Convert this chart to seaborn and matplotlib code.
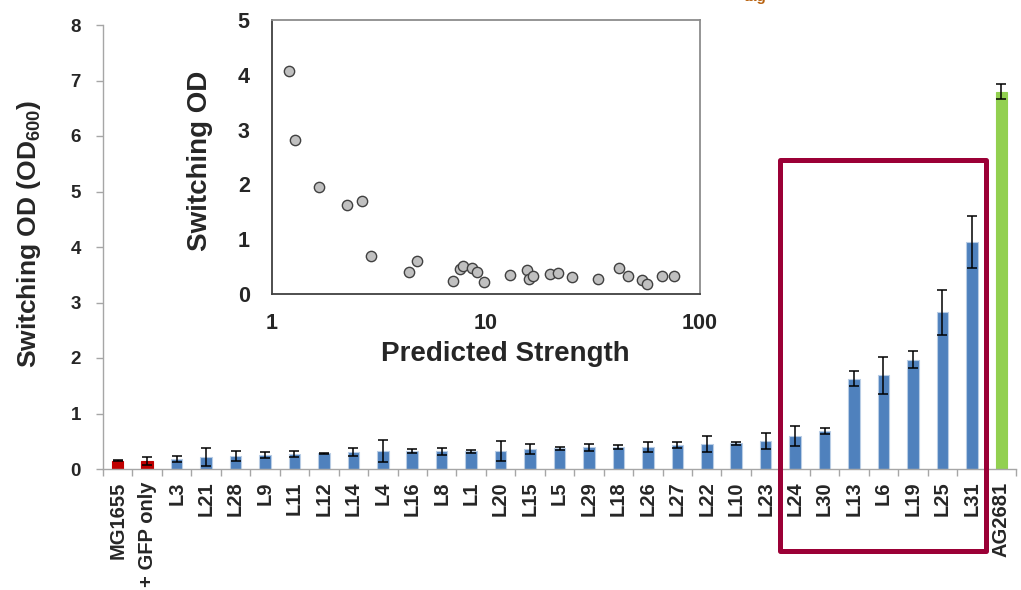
import numpy as np
import pandas as pd
import matplotlib
matplotlib.use('Agg')
import matplotlib.pyplot as plt
import seaborn as sns
from matplotlib.patches import Rectangle

# Main bar chart data (switching OD per strain)
strains = ['MG1655', '+ GFP only', 'L3', 'L21', 'L28', 'L9', 'L11', 'L12', 'L14', 'L4',
           'L16', 'L8', 'L1', 'L20', 'L15', 'L5', 'L29', 'L18', 'L26', 'L27', 'L22',
           'L10', 'L23', 'L24', 'L30', 'L13', 'L6', 'L19', 'L25', 'L31', 'AG2681']
switching_od = [0.15, 0.15, 0.18, 0.21, 0.23, 0.25, 0.27, 0.28, 0.31, 0.32,
                0.32, 0.32, 0.32, 0.33, 0.36, 0.37, 0.39, 0.40, 0.40, 0.44, 0.45,
                0.46, 0.50, 0.59, 0.68, 1.63, 1.69, 1.97, 2.82, 4.09, 6.80]
od_err = [0.01, 0.07, 0.06, 0.16, 0.09, 0.055, 0.055, 0.01, 0.07, 0.20,
          0.035, 0.065, 0.03, 0.18, 0.085, 0.025, 0.06, 0.04, 0.09, 0.055, 0.15,
          0.03, 0.14, 0.18, 0.05, 0.135, 0.33, 0.15, 0.41, 0.47, 0.14]
groups = ['control'] * 2 + ['library'] * 28 + ['positive']

# Inset scatter data
predicted_strength = [1.20, 1.28, 1.66, 2.23, 2.64, 2.90, 4.38, 4.76, 7.03, 7.56,
                      7.81, 8.64, 9.08, 9.82, 12.9, 15.5, 15.8, 16.5, 20.0, 21.8,
                      25.3, 33.5, 41.7, 46.1, 53.6, 56.5, 66.4, 75.4]
inset_od = [4.07, 2.81, 1.96, 1.62, 1.69, 0.69, 0.40, 0.61, 0.24, 0.45,
            0.52, 0.47, 0.41, 0.21, 0.34, 0.43, 0.27, 0.33, 0.36, 0.38,
            0.31, 0.28, 0.48, 0.32, 0.26, 0.18, 0.33, 0.33]

group_colors = {'control': '#c00000', 'library': '#4f81bd', 'positive': '#92d050'}
group_edges = {'control': '#c00000', 'library': '#b9cde5', 'positive': '#92d050'}

sns.set_style('white')
plt.rcParams['font.family'] = ['Liberation Sans', 'DejaVu Sans']
plt.rcParams['mathtext.fontset'] = 'custom'
plt.rcParams['mathtext.rm'] = 'Liberation Sans'
plt.rcParams['mathtext.bf'] = 'Liberation Sans:bold'

fig = plt.figure(figsize=(10.21, 5.90), dpi=100)
ax = fig.add_axes([103 / 1021, 1 - 469 / 590, 913 / 1021, 444 / 590])

df = pd.DataFrame({'strain': strains, 'od': switching_od, 'err': od_err, 'group': groups})
palette = {s: group_colors[g] for s, g in zip(strains, groups)}
sns.barplot(data=df, x='strain', y='od', hue='strain', palette=palette, width=0.39,
            legend=False, ax=ax, saturation=1)
for patch, g in zip(ax.patches, groups):
    patch.set_edgecolor(group_edges[g])
    patch.set_linewidth(0.8)

ax.errorbar(np.arange(len(strains)), df['od'], yerr=df['err'], fmt='none',
            ecolor='black', elinewidth=1.1, capsize=3.3, capthick=1.1, zorder=3)

n = len(strains)
ax.set_xlim(-0.5, n - 0.5)
ax.set_ylim(0, 8)
ax.set_xticks(range(n))
ax.set_xticklabels(strains, rotation=90, fontsize=14.5, fontweight='bold')
ax.set_xticks(np.arange(-0.5, n, 1), minor=True)
ax.tick_params(axis='x', which='major', length=0, pad=9)
ax.tick_params(axis='x', which='minor', bottom=True, length=5, width=1, color='#a6a6a6')
ax.set_yticks(range(9))
ax.tick_params(axis='y', left=True, length=5, width=1, color='#a6a6a6', labelsize=13.5, pad=11)
for lab in ax.get_yticklabels():
    lab.set_fontweight('bold')
ax.set_xlabel('')
ax.set_ylabel(r'Switching OD (OD$_{\mathbf{600}}$)', fontsize=19, fontweight='bold')
ax.yaxis.set_label_coords(-0.066, 0.53)
for side in ['top', 'right']:
    ax.spines[side].set_visible(False)
for side in ['left', 'bottom']:
    ax.spines[side].set_color('#a6a6a6')
    ax.spines[side].set_linewidth(1)

# Inset: switching OD vs predicted strength
axin = fig.add_axes([272 / 1021, 1 - 294 / 590, 428 / 1021, 274 / 590])
axin.set_facecolor('white')
sns.scatterplot(x=predicted_strength, y=inset_od, ax=axin, color='#c0c0c0',
                edgecolor='#404040', linewidth=1, s=55, zorder=3)
axin.set_xscale('log')
axin.set_xlim(1, 100)
axin.set_ylim(0, 5)
axin.set_xticks([1, 10, 100])
axin.set_xticklabels(['1', '10', '100'])
axin.minorticks_off()
axin.set_yticks(range(6))
axin.tick_params(axis='both', length=0, labelsize=15.5)
axin.tick_params(axis='x', pad=14)
axin.tick_params(axis='y', pad=16)
for lab in axin.get_xticklabels() + axin.get_yticklabels():
    lab.set_fontweight('bold')
axin.set_xlabel('Predicted Strength', fontsize=20, fontweight='bold')
axin.set_ylabel('Switching OD', fontsize=20, fontweight='bold')
axin.xaxis.set_label_coords(0.545, -0.17)
axin.yaxis.set_label_coords(-0.138, 0.485)
for side in axin.spines:
    axin.spines[side].set_color('#404040')
    axin.spines[side].set_linewidth(1.3)
axin.spines['right'].set_color('#8c8c8c')
axin.spines['top'].set_color('#8c8c8c')

# Highlight box around the strongest switchers
fig.patches.append(Rectangle((780 / 1021, 1 - 551 / 590), 206 / 1021, 391 / 590,
                             transform=fig.transFigure, fill=False,
                             edgecolor='#9b0036', linewidth=3.6, joinstyle='round'))

# Clipped label at top edge
fig.text(755 / 1021, 1 - 1.5 / 590, 'tag', ha='center', va='baseline',
         fontsize=11, fontweight='bold', color='#b8620f')

fig.savefig('out.png', dpi=100)
